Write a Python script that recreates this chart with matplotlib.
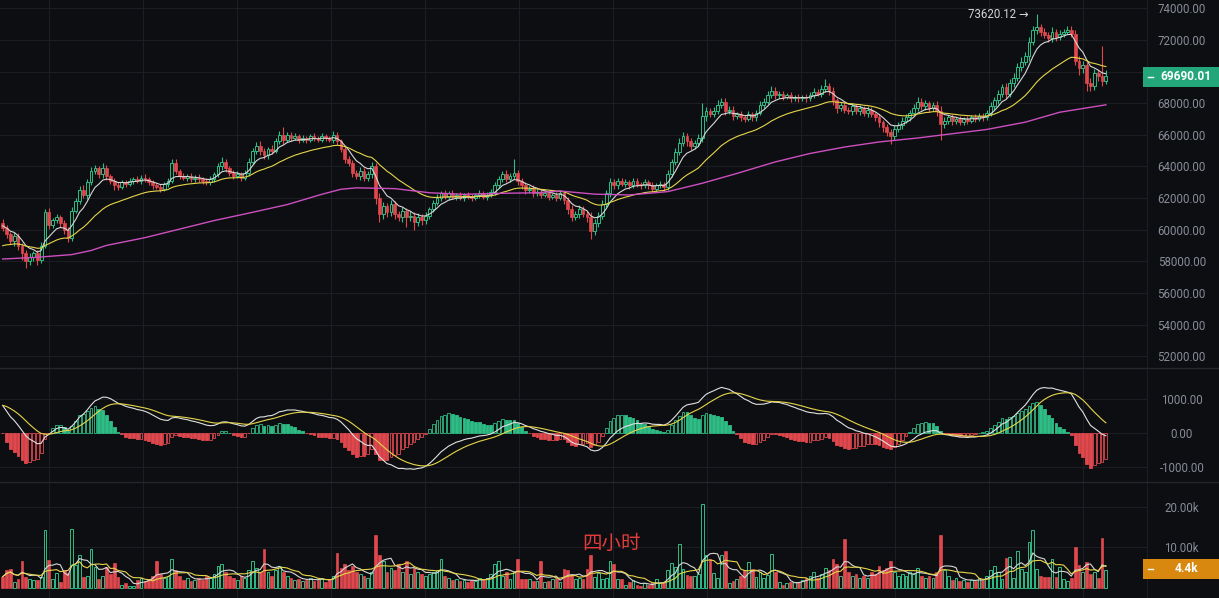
import numpy as np
import pandas as pd
import matplotlib.pyplot as plt
from matplotlib.patches import Rectangle
from matplotlib.lines import Line2D

# 4h candles (close prices, USD)
closes = [
    60100, 59700, 59300, 59600, 59000, 58500, 58000, 58300, 58500, 58100,
    59000, 61100, 60300, 60600, 60800, 60400, 60000, 59500, 61200, 61800,
    62500, 62200, 63000, 63700, 63900, 63500, 63900, 63400, 63100, 62800,
    62700, 63000, 62900, 63100, 63200, 63100, 63300, 63200, 63000, 62800,
    62700, 62600, 62900, 63100, 64200, 63700, 63400, 63300, 63400, 63200,
    63300, 63200, 63100, 63000, 63200, 63500, 64000, 64300, 63900, 63600,
    63400, 63500, 63300, 63600, 64300, 65000, 65300, 65000, 64700, 65100,
    65000, 65600, 66000, 65700, 66000, 65800, 65900, 65700, 65800, 65700,
    65900, 65800, 65700, 65900, 65800, 65700, 66000, 65600, 65100, 64500,
    64200, 63600, 63400, 63700, 63300, 63500, 64000, 62000, 61000, 61500,
    61100, 61600, 61000, 60800, 61200, 60800, 60900, 60500, 60800, 60600,
    60900, 61300, 61700, 62000, 62300, 62100, 62300, 62100, 62200, 62000,
    62200, 62100, 62000, 62200, 62300, 62100, 62200, 62400, 62800, 63200,
    63500, 63200, 63400, 63600, 63100, 62800, 62500, 62600, 62300, 62400,
    62200, 62300, 62100, 62200, 62000, 62300, 61900, 61300, 60800, 61000,
    61300, 61000, 60800, 59900, 60400, 60900, 61600, 62300, 63000, 62800,
    63100, 62900, 63000, 62800, 63100, 62900, 62800, 63000, 62800, 62600,
    62800, 62900, 62700, 63500, 64300, 64900, 65500, 65900, 65600, 65300,
    65500, 65800, 67200, 67500, 67300, 67500, 67900, 68100, 67500, 67600,
    67200, 67300, 67100, 67000, 67300, 67100, 67400, 67900, 68100, 68500,
    68800, 68500, 68600, 68400, 68500, 68300, 68400, 68300, 68400, 68300,
    68500, 68700, 68600, 68900, 69100, 68800, 68200, 67700, 67900, 67600,
    67500, 67800, 67500, 67700, 67400, 67600, 67300, 67100, 66800, 66500,
    66200, 65900, 66400, 66600, 66900, 67100, 67400, 67700, 68100, 67800,
    68000, 67700, 67900, 67500, 66700, 66900, 67100, 66900, 67000, 66800,
    67000, 66900, 67100, 67000, 67200, 67100, 67400, 67800, 68200, 68600,
    69000, 68600, 69300, 69600, 70300, 70600, 71000, 71900, 72600, 72800,
    72500, 72300, 72100, 72500, 72200, 72400, 72500, 72600, 72400, 70700,
    70200, 70400, 69300, 69100, 69900, 69700, 69400, 69690.01,
]
first_open = 60400

# wick lengths above / below the body (USD)
wick_up = [
    300, 200, 150, 250, 200, 150, 200, 250, 150, 200,
    250, 200, 300, 150, 200, 150, 200, 150, 250, 200,
    250, 300, 200, 250, 200, 150, 300, 200, 150, 150,
    200, 150, 150, 200, 150, 200, 150, 200, 150, 150,
    150, 200, 150, 200, 300, 250, 150, 200, 150, 200,
    150, 200, 150, 150, 200, 150, 250, 300, 200, 150,
    150, 200, 150, 200, 250, 200, 250, 300, 200, 150,
    250, 200, 250, 500, 200, 150, 200, 150, 200, 150,
    150, 200, 150, 200, 150, 150, 250, 200, 150, 200,
    150, 200, 200, 250, 200, 200, 300, 200, 300, 250,
    200, 300, 200, 200, 250, 150, 300, 200, 250, 200,
    200, 150, 200, 250, 150, 200, 150, 200, 150, 200,
    150, 200, 150, 150, 200, 150, 200, 150, 250, 200,
    200, 250, 200, 900, 200, 150, 200, 150, 200, 150,
    150, 200, 150, 150, 200, 200, 150, 200, 250, 200,
    250, 200, 200, 300, 250, 200, 250, 200, 300, 200,
    200, 150, 200, 150, 200, 150, 150, 200, 150, 200,
    150, 200, 150, 250, 200, 250, 300, 250, 200, 200,
    200, 250, 800, 250, 200, 250, 300, 200, 200, 250,
    200, 150, 200, 150, 200, 150, 200, 250, 200, 250,
    300, 200, 150, 200, 150, 200, 150, 200, 150, 200,
    200, 250, 200, 250, 400, 200, 200, 150, 200, 150,
    150, 200, 150, 200, 150, 200, 150, 150, 200, 150,
    200, 200, 250, 200, 250, 200, 200, 250, 300, 200,
    200, 150, 200, 250, 300, 200, 150, 200, 150, 200,
    150, 200, 150, 200, 150, 200, 200, 250, 200, 250,
    200, 300, 250, 300, 250, 300, 250, 300, 300, 820.12,
    200, 250, 200, 300, 200, 250, 200, 300, 250, 200,
    300, 250, 200, 300, 250, 200, 1900, 400,
]
wick_dn = [
    200, 250, 200, 300, 250, 400, 400, 200, 250, 300,
    200, 150, 250, 200, 150, 200, 250, 300, 200, 150,
    200, 200, 250, 150, 200, 250, 200, 250, 200, 300,
    200, 150, 200, 150, 200, 150, 200, 150, 200, 200,
    150, 200, 150, 200, 150, 200, 200, 150, 200, 150,
    200, 150, 200, 200, 150, 200, 150, 200, 250, 200,
    200, 150, 200, 150, 200, 150, 200, 250, 200, 200,
    200, 150, 200, 250, 150, 200, 150, 200, 150, 200,
    150, 200, 150, 150, 200, 150, 200, 250, 200, 300,
    200, 250, 200, 250, 200, 200, 250, 400, 500, 300,
    300, 250, 300, 250, 300, 600, 250, 500, 250, 300,
    250, 200, 200, 150, 200, 150, 200, 150, 200, 150,
    200, 150, 200, 150, 200, 150, 200, 150, 200, 150,
    200, 200, 150, 200, 250, 200, 250, 200, 200, 150,
    200, 150, 200, 150, 200, 150, 250, 300, 250, 200,
    250, 200, 300, 500, 250, 200, 200, 150, 200, 250,
    200, 150, 200, 200, 150, 200, 200, 150, 250, 200,
    200, 150, 250, 200, 150, 200, 150, 200, 300, 250,
    200, 200, 250, 300, 200, 150, 200, 200, 250, 200,
    250, 200, 250, 200, 150, 250, 200, 150, 200, 150,
    200, 250, 200, 200, 150, 200, 150, 200, 150, 200,
    150, 200, 150, 200, 200, 250, 300, 300, 200, 250,
    200, 250, 200, 250, 200, 250, 200, 250, 300, 300,
    300, 500, 200, 250, 200, 150, 200, 150, 200, 250,
    200, 250, 200, 300, 1000, 250, 200, 250, 200, 200,
    150, 200, 150, 200, 150, 200, 150, 200, 200, 250,
    200, 300, 200, 250, 200, 250, 200, 300, 200, 250,
    250, 200, 250, 200, 250, 200, 200, 150, 200, 300,
    400, 300, 500, 300, 250, 300, 300, 200,
]

# volume per candle (thousands)
volume_k = [
    2.75, 4.4, 4.6, 1.5, 2.2, 6.5, 2.75, 2.2, 2.0, 2.0,
    2.75, 14.2, 6.75, 2.3, 3.6, 1.5, 4.4, 3.6, 14.4, 5.7,
    8.0, 2.75, 3.0, 9.7, 5.2, 2.2, 2.9, 5.2, 3.3, 6.1,
    2.75, 0.8, 1.1, 0.5, 0.5, 2.0, 2.5, 1.8, 2.2, 3.0,
    6.5, 3.5, 2.5, 3.0, 7.0, 4.5, 3.0, 2.0, 2.5, 1.8,
    2.0, 2.5, 2.0, 3.0, 2.5, 3.5, 5.5, 6.0, 4.0, 3.0,
    2.5, 2.0, 3.0, 2.5, 4.5, 6.5, 5.0, 4.0, 9.5, 4.0,
    3.0, 4.5, 5.5, 4.0, 3.0, 2.5, 2.0, 2.2, 1.8, 2.0,
    2.5, 1.8, 2.0, 2.5, 1.5, 2.0, 3.0, 8.5, 5.0, 6.0,
    4.5, 5.5, 4.0, 3.5, 3.0, 2.5, 4.0, 13.0, 8.0, 6.5,
    4.0, 5.0, 4.5, 6.0, 4.0, 6.5, 3.5, 5.0, 4.0, 3.5,
    3.0, 3.5, 4.0, 4.5, 7.0, 3.0, 2.5, 2.0, 2.2, 1.8,
    2.0, 1.5, 2.0, 1.8, 2.5, 2.0, 2.5, 3.5, 6.0, 6.5,
    3.0, 4.0, 2.2, 4.0, 7.2, 2.1, 2.3, 2.3, 1.7, 1.7,
    6.5, 1.5, 1.7, 2.3, 2.5, 1.5, 4.7, 4.4, 3.2, 2.2,
    2.5, 2.3, 4.7, 8.0, 2.75, 3.6, 2.3, 2.5, 6.5, 5.9,
    2.3, 2.2, 0.7, 1.5, 2.0, 0.7, 0.5, 1.1, 0.7, 1.1,
    2.1, 1.1, 1.5, 4.4, 6.1, 5.2, 10.7, 4.7, 3.2, 3.0,
    3.0, 3.3, 20.7, 8.0, 7.0, 3.6, 2.5, 8.2, 9.0, 1.1,
    1.7, 2.3, 3.0, 4.4, 6.3, 4.7, 2.75, 3.9, 2.5, 3.2,
    8.4, 4.0, 1.5, 0.8, 1.1, 1.5, 1.5, 1.5, 2.0, 2.5,
    3.0, 4.0, 2.5, 3.5, 5.0, 4.5, 7.0, 6.0, 3.0, 12.0,
    4.0, 3.0, 3.5, 2.5, 3.0, 2.5, 4.0, 3.5, 5.5, 4.5,
    5.0, 6.5, 4.0, 3.0, 3.5, 3.0, 4.0, 3.5, 5.0, 3.0,
    2.5, 3.0, 2.5, 4.0, 13.0, 4.5, 3.0, 2.0, 2.5, 1.8,
    2.0, 1.5, 2.0, 1.8, 2.5, 2.0, 3.0, 4.5, 5.5, 4.0,
    2.3, 7.3, 7.5, 2.5, 9.0, 4.7, 3.9, 11.2, 14.2, 4.7,
    3.0, 2.6, 2.75, 7.2, 2.75, 5.2, 2.3, 1.7, 2.5, 10.1,
    5.7, 4.0, 6.3, 3.3, 3.9, 2.5, 12.3, 4.4,
]

# long moving average (pink), read at sample candles
ma99_idx = [0, 9, 18, 23, 27, 37, 46, 55, 64, 74, 83, 88, 92, 102, 111, 120, 129,
            139, 145, 154, 163, 173, 182, 191, 201, 210, 219, 228, 238, 247, 256,
            266, 275, 287]
ma99_val = [58150, 58260, 58430, 58690, 59010, 59500, 60040, 60580, 61050, 61590,
            62240, 62560, 62650, 62600, 62340, 62240, 62300, 62340, 62450, 62250,
            62200, 62410, 62940, 63560, 64290, 64820, 65230, 65550, 65800, 66070,
            66340, 66800, 67430, 67900]

# line values at the left edge (used as EMA seeds)
ema7_seed, ema25_seed = 60300, 58900
ema12_seed, ema26_seed, dea_seed = 61150, 60180, 820

price_ticks = [52000, 54000, 56000, 58000, 60000, 62000, 64000, 66000, 68000, 70000, 72000, 74000]
macd_ticks = [-1000, 0, 1000]
vol_ticks = [10, 20]

BG = '#0d0e11'
GRID = '#1c1e23'
TXT = '#878c98'
GREEN = '#2ebd85'
RED = '#e0484e'
FONT = ['Roboto', 'DejaVu Sans']

c = np.array(closes, dtype=float)
o = np.concatenate([[first_open], c[:-1]])
h = np.maximum(o, c) + np.array(wick_up)
l = np.minimum(o, c) - np.array(wick_dn)
v = np.array(volume_k)
x = np.arange(len(c))
up = c >= o


def ema(vals, span, seed):
    a = 2 / (span + 1)
    out, prev = [], seed
    for val in vals:
        prev = prev + a * (val - prev)
        out.append(prev)
    return np.array(out)


fast = ema(c, 7, ema7_seed)
slow = ema(c, 25, ema25_seed)

dif = ema(c, 12, ema12_seed) - ema(c, 26, ema26_seed)
dea = ema(dif, 9, dea_seed)
hist = 2 * (dif - dea)

vs = pd.Series(v)
vma5 = vs.rolling(5, min_periods=1).mean()
vma10 = vs.rolling(10, min_periods=1).mean()

W, H = 1219, 598
fig = plt.figure(figsize=(W / 100, H / 100), dpi=100, facecolor=BG)
plot_w = 1147 / W
ax_p = fig.add_axes([0, 1 - 368 / H, plot_w, 368 / H])
ax_m = fig.add_axes([0, 1 - 482 / H, plot_w, 114 / H])
ax_v = fig.add_axes([0, 0, plot_w, 116 / H])

xmin, xmax = -0.70, 297.7
bw = 0.72
for ax in (ax_p, ax_m, ax_v):
    ax.set_facecolor(BG)
    ax.set_xlim(xmin, xmax)
    ax.set_xticks(np.arange(12.05, xmax, 24.45))
    ax.tick_params(axis='x', length=0, labelbottom=False)
    ax.grid(True, color=GRID, linewidth=0.8)
    ax.set_axisbelow(True)
    for sp in ax.spines.values():
        sp.set_visible(False)
    ax.spines['right'].set_visible(True)
    ax.spines['right'].set_color(GRID)
    ax.yaxis.tick_right()
    ax.tick_params(axis='y', length=0, pad=25, labelcolor=TXT, labelsize=8.3)

# price candles
ax_p.set_ylim(51260, 74525)
ax_p.vlines(x[up], l[up], h[up], color=GREEN, linewidth=0.8)
ax_p.vlines(x[~up], l[~up], h[~up], color=RED, linewidth=0.8)
body = np.maximum(np.abs(c - o), 40)
ax_p.bar(x[up], body[up], bottom=np.minimum(o, c)[up], width=bw,
         facecolor=BG, edgecolor=GREEN, linewidth=0.7, zorder=3)
ax_p.bar(x[~up], body[~up], bottom=np.minimum(o, c)[~up], width=bw,
         facecolor=RED, edgecolor=RED, linewidth=0.5, zorder=3)
ax_p.plot(x, fast, color='#d7d7d7', linewidth=0.8, zorder=4)
ax_p.plot(x, slow, color='#e6d54a', linewidth=0.8, zorder=4)
ax_p.plot(ma99_idx, ma99_val, color='#cc4fc0', linewidth=1.0, zorder=4)
ax_p.set_yticks(price_ticks)
# the 70000 label sits under the last-price tag
ax_p.set_yticklabels(['' if t == 70000 else f'{t:.2f}' for t in price_ticks])
imax = int(np.argmax(h))
ax_p.text(imax - 2.0, h[imax], f'{h[imax]:.2f} \u2192', color='#d2d4d8', fontsize=8.3,
          ha='right', va='center', family=FONT)

# MACD
ax_m.set_ylim(-1452, 1926)
prev = np.concatenate([[hist[0]], hist[:-1]])
rising = hist > prev
colors = np.where(hist >= 0, GREEN, RED)
for xi, hv, r, col in zip(x, hist, rising, colors):
    ax_m.bar(xi, hv, width=bw, facecolor=BG if r else col, edgecolor=col,
             linewidth=0.6, zorder=3)
ax_m.plot(x, dif, color='#e0e0e0', linewidth=0.8, zorder=4)
ax_m.plot(x, dea, color='#e6d54a', linewidth=0.8, zorder=4)
ax_m.set_yticks(macd_ticks)
ax_m.set_yticklabels([f'{t:.2f}' for t in macd_ticks])

# volume
ax_v.set_ylim(-2.49, 26.08)
ax_v.bar(x[up], v[up], width=bw, facecolor=BG, edgecolor=GREEN, linewidth=0.7, zorder=3)
ax_v.bar(x[~up], v[~up], width=bw, facecolor=RED, edgecolor=RED, linewidth=0.5, zorder=3)
ax_v.plot(x, vma5, color='#d7d7d7', linewidth=0.8, zorder=4)
ax_v.plot(x, vma10, color='#e6d54a', linewidth=0.8, zorder=4)
ax_v.set_yticks(vol_ticks)
ax_v.set_yticklabels([f'{t:.2f}k' for t in vol_ticks])

for ax in (ax_p, ax_m, ax_v):
    for lab in ax.get_yticklabels():
        lab.set_horizontalalignment('center')
        lab.set_family(FONT)

# panel separators
for yy in (368, 482):
    fig.add_artist(Line2D([0, 1], [1 - yy / H] * 2, color='#24262b', linewidth=1.0))


def value_tag(ytop, ybot, text, color):
    fig.add_artist(Rectangle((1143 / W, 1 - ybot / H), 76 / W, (ybot - ytop) / H,
                             facecolor=color, edgecolor='none'))
    ym = 1 - (ytop + ybot) / 2 / H
    fig.add_artist(Line2D([1148 / W, 1153 / W], [ym, ym], color='white', linewidth=1.0))
    fig.text(1186 / W, ym, text, color='white', fontsize=8.6, fontweight='bold',
             ha='center', va='center', family=FONT)


value_tag(67, 87, f'{closes[-1]:.2f}', '#23a77a')
value_tag(559, 579, f'{volume_k[-1]:.1f}k', '#d8870f')

fig.text(612 / W, 1 - 543 / H, '四小时', color='#e23b3b', fontsize=14,
         ha='center', va='center', family=['Noto Sans CJK SC', 'DejaVu Sans'])

fig.savefig('out.png', dpi=100, facecolor=BG)
